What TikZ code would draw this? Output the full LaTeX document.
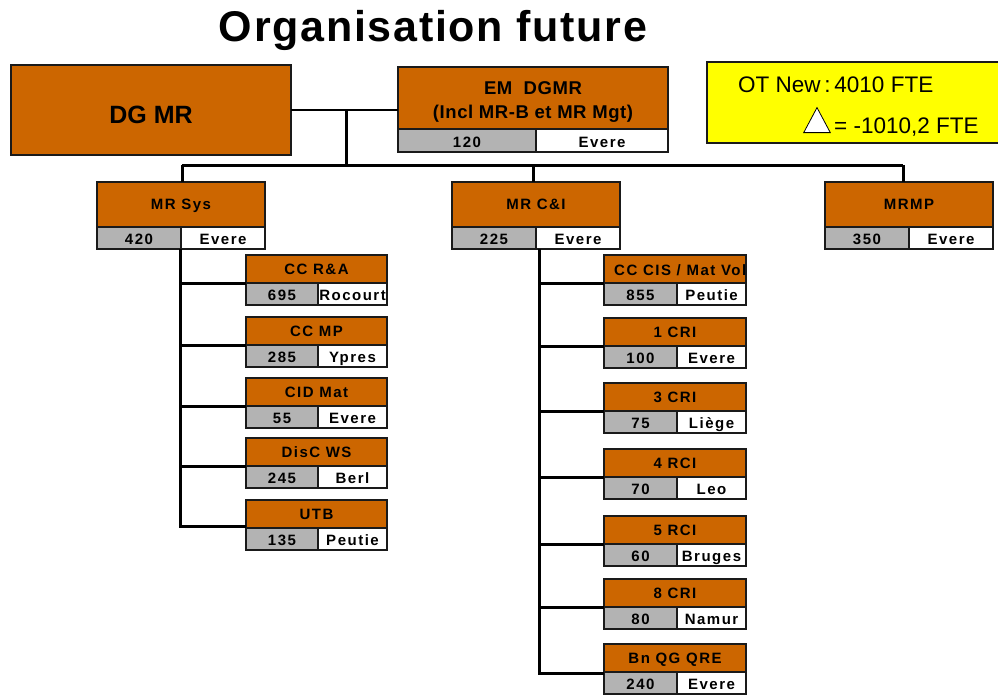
\documentclass[tikz,border=0pt]{standalone}
\usepackage{fontspec}
\usetikzlibrary{shapes.geometric}
\setmainfont{Liberation Sans}
\newfontfamily\ufont{Liberation Sans}[LetterSpace=10]
\definecolor{orgorange}{HTML}{CC6600}
\definecolor{cellgray}{HTML}{B3B3B3}
\definecolor{notey}{HTML}{FFFF00}
\definecolor{edge}{HTML}{1A1A1A}
\tikzset{
  unit/.style={draw=edge, line width=1.6pt, fill=orgorange, inner sep=0pt, outer sep=0pt,
    font=\ufont\bfseries\fontsize{15}{17}\selectfont, text height=10pt, text depth=0pt},
  numcell/.style={draw=edge, line width=1.6pt, fill=cellgray, inner sep=0pt, outer sep=0pt, minimum height=22,
    font=\ufont\bfseries\fontsize{15}{17}\selectfont, text height=13pt, text depth=0pt},
  loccell/.style={numcell, fill=white},
  link/.style={line width=3pt, draw=black},
}
% name, x, y, width, top height, gray width, title, number, location
\newcommand\orgunit[9]{%
  \node[unit, minimum width=#4, minimum height=#5, anchor=north west] (#1) at (#2,#3) {#7};
  \node[numcell, minimum width=#6, anchor=north west] (#1n) at (#1.south west) {#8};
  \node[loccell, minimum width=#4-#6, anchor=north west] (#1l) at (#1n.north east) {#9};
}
\begin{document}
\begin{tikzpicture}[x=1pt,y=-1pt]
\useasboundingbox (0,0) rectangle (998,694);

% title
\node[font=\bfseries\fontsize{43}{48}\selectfont\addfontfeatures{LetterSpace=4}] (title) at (433,30) {Organisation future};

% top
\node[draw=edge, line width=1.6pt, fill=orgorange, minimum width=280, minimum height=90, anchor=north west, outer sep=0pt,
  inner sep=0pt, font=\bfseries\fontsize{25}{28}\selectfont, text height=26pt, text depth=0pt] (dg) at (11,65) {DG MR};
\node[draw=edge, line width=1.6pt, fill=orgorange, minimum width=270, minimum height=62, anchor=north west, inner sep=0pt, outer sep=0pt] (em) at (398,67) {};
\node[align=center, font=\bfseries\fontsize{18.5}{23.5}\selectfont\addfontfeatures{LetterSpace=3}, inner sep=0pt] (emtext) at ([yshift=-4]em.center) {EM\ \ DGMR\\(Incl MR-B et MR Mgt)};
\node[numcell, minimum width=138, anchor=north west, minimum height=23] (emn) at (em.south west) {120};
\node[loccell, minimum width=132, anchor=north west, minimum height=23] (eml) at (emn.north east) {Evere};

% note
\node[draw=edge, line width=1.4pt, fill=notey, minimum width=295, minimum height=81, anchor=north west, outer sep=0pt] (note) at (707,62) {};
\node[font=\fontsize{22.5}{26}\selectfont, anchor=base west, inner sep=0pt] (otnew) at (738,92) {OT New\,:\,4010 FTE};
\node[draw=black, line width=0.8pt, fill=white, isosceles triangle, isosceles triangle apex angle=56, shape border rotate=90,
  minimum height=25, inner sep=0pt, anchor=south] (delta) at (817,133) {};
\node[font=\fontsize{22.5}{26}\selectfont, anchor=base west, inner sep=0pt] (diff) at (834,133) {= -1010,2 FTE};

% level 2
\orgunit{sys}{97}{182}{168}{45}{84}{MR Sys}{420}{Evere}
\orgunit{ci}{452}{182}{168}{45}{84}{MR C\&I}{225}{Evere}
\orgunit{mp}{825}{182}{168}{45}{84}{MRMP}{350}{Evere}

% MR Sys children
\orgunit{ra}{246}{255}{141}{28}{72}{CC\ R\&A}{695}{Rocourt}
\orgunit{ccmp}{246}{317}{141}{28}{72}{CC\ MP}{285}{Ypres}
\orgunit{cid}{246}{378}{141}{28}{72}{CID Mat}{55}{Evere}
\orgunit{disc}{246}{438}{141}{28}{72}{DisC WS}{245}{Berl}
\orgunit{utb}{246}{500}{141}{28}{72}{UTB}{135}{Peutie}

% MR C&I children
\orgunit{ccis}{604}{255}{142}{28}{73}{}{855}{Peutie}
\begin{scope}
\clip (ccis.north west) rectangle (ccis.south east);
\node[font=\ufont\bfseries\fontsize{15}{17}\selectfont, anchor=base west, inner sep=0pt] (ccistext) at (614,275) {CC CIS / Mat Vol};
\end{scope}
\orgunit{cri1}{604}{318}{142}{28}{73}{1\ CRI}{100}{Evere}
\orgunit{cri3}{604}{383}{142}{28}{73}{3 CRI}{75}{Liège}
\orgunit{rci4}{604}{449}{142}{28}{73}{4 RCI}{70}{Leo}
\orgunit{rci5}{604}{516}{142}{28}{73}{5 RCI}{60}{Bruges}
\orgunit{cri8}{604}{579}{142}{28}{73}{8 CRI}{80}{Namur}
\orgunit{qg}{604}{644}{142}{28}{73}{Bn QG QRE}{240}{Evere}

% connectors top
\coordinate (j1) at (346,110);
\coordinate (busl) at (182,165);
\coordinate (busr) at (903,165);
\coordinate (j2) at (346,165);
\draw[link, line width=2.4pt] (dg.east |- j1) -- (em.west |- j1);
\draw[link] (j1) -- (j2);
\draw[link] (busl) -- (busr);
\draw[link] (busl) -- (busl |- sys.north);
\draw[link] (533,165) coordinate (cidrop) -- (cidrop |- ci.north);
\draw[link] (busr) -- (busr |- mp.north);

% MR Sys tree
\coordinate (st) at (180,249);
\coordinate (sb) at (180,526);
\draw[link] (st) -- (sb) -- (utb.west |- sb);
\foreach \n in {ra,ccmp,cid,disc} \draw[link] (st |- \n.south) -- (\n.south west);

% MR C&I tree
\coordinate (ct) at (539,249);
\coordinate (cb) at (539,673);
\draw[link] (ct) -- (cb) -- (qg.west |- cb);
\foreach \n in {ccis,cri1,cri3,rci4,rci5,cri8} \draw[link] (ct |- \n.south) -- (\n.south west);
\end{tikzpicture}
\end{document}
